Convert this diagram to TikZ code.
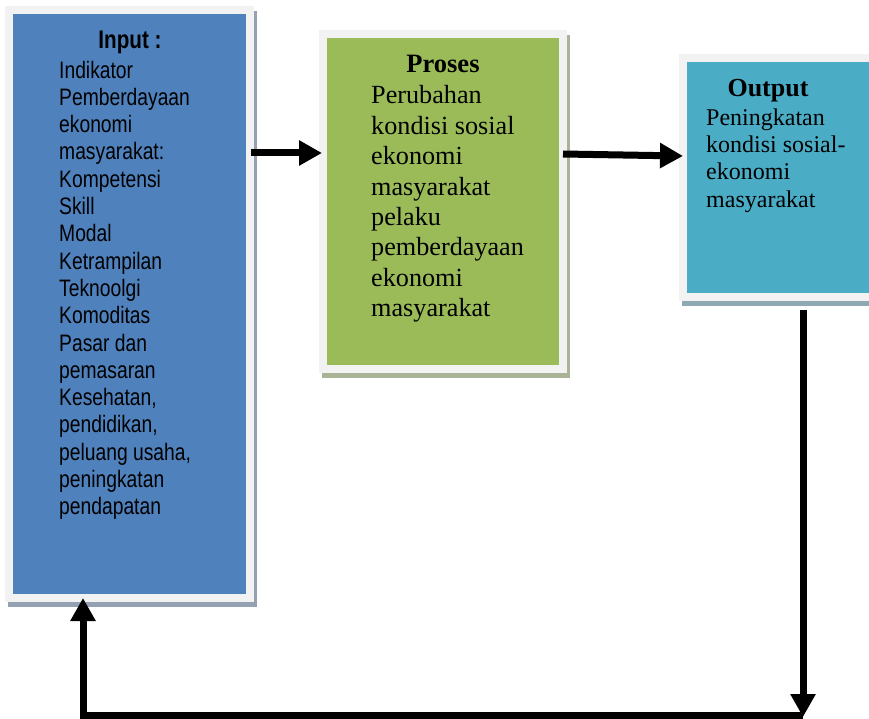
\documentclass[tikz,border=0pt]{standalone}
\usepackage{fontspec}
\setmainfont{Liberation Serif}
\newfontfamily\narrowsans[FakeStretch=0.81]{Liberation Sans}
\usetikzlibrary{arrows.meta,shadows,calc}

\definecolor{framegray}{HTML}{F2F2F2}
\definecolor{inblue}{HTML}{4F81BD}
\definecolor{prgreen}{HTML}{9BBB59}
\definecolor{outteal}{HTML}{4BACC6}
\definecolor{inshade}{HTML}{93A1B3}
\definecolor{prshade}{HTML}{A9B497}
\definecolor{outshade}{HTML}{8FA9B4}

\tikzset{
  stage/.style={rectangle, draw=framegray, line width=8pt, inner sep=0pt,
    drop shadow={shadow xshift=3pt, shadow yshift=-5pt, fill=#1, draw=#1,
      line width=8pt, opacity=1}},
  flow/.style={line width=7pt, -{Triangle[length=23pt,width=24pt]}},
  sanstitle/.style={anchor=base, inner sep=0pt,
    font=\narrowsans\bfseries\fontsize{25.5}{28}\selectfont},
  sansbody/.style={anchor=north west, inner sep=0pt, align=left,
    font=\narrowsans\fontsize{23.8}{27.3}\selectfont},
  seriftitle/.style={anchor=base, inner sep=0pt,
    font=\bfseries\fontsize{26.5}{30}\selectfont}
}

\begin{document}
\begin{tikzpicture}[x=1pt, y=-1pt]
  \useasboundingbox (0,0) rectangle (869,719);

  % the three stages
  \node[stage=inshade, fill=inblue, minimum width=241pt, minimum height=588pt]
    (in) at (129.5,304) {};
  \node[stage=prshade, fill=prgreen, minimum width=240pt, minimum height=335pt]
    (pr) at (443,201.5) {};
  \node[stage=outshade, fill=outteal, minimum width=222pt, minimum height=239pt]
    (out) at (794,177.5) {};

  % texts
  \node[sanstitle] (intitle) at (130,49) {Input :};
  \node[sansbody] (inlist) at (59,60.6) {Indikator\\Pemberdayaan\\ekonomi\\
    masyarakat:\\Kompetensi\\Skill\\Modal\\Ketrampilan\\Teknoolgi\\Komoditas\\
    Pasar dan\\pemasaran\\Kesehatan,\\pendidikan,\\peluang usaha,\\
    peningkatan\\pendapatan};

  \node[seriftitle] (prtitle) at (443,72.3) {Proses};
  \node[anchor=north west, inner sep=0pt, align=left,
    font=\fontsize{26.2}{30.4}\selectfont] (prlist) at (371,85.5)
    {Perubahan\\kondisi sosial\\ekonomi\\masyarakat\\pelaku\\pemberdayaan\\
    ekonomi\\masyarakat};

  \node[seriftitle, font=\bfseries\fontsize{26}{30}\selectfont]
    (outtitle) at (768,96.7) {Output};
  \node[anchor=north west, inner sep=0pt, align=left,
    font=\fontsize{24}{27.2}\selectfont] (outlist) at (706,108.6)
    {Peningkatan\\kondisi sosial-\\ekonomi\\masyarakat};

  % arrows
  \coordinate (turnR) at (803,715.5);
  \coordinate (turnL) at (83,715.5);
  \draw[flow] ($(in.east |- 0,153)+(-3,0)$) -- ($(pr.west |- 0,153)+(3,0)$);
  \draw[flow] ($(pr.east |- 0,154)+(-4,0)$) -- ($(out.west |- 0,156)+(4,0)$);
  \draw[flow] ($(out.south -| turnR)+(0,9)$) -- ($(turnR)+(0,1.5)$);
  \draw[flow] (turnR) -- (turnL) -- ($(in.south -| turnL)+(0,-4)$);
\end{tikzpicture}
\end{document}
